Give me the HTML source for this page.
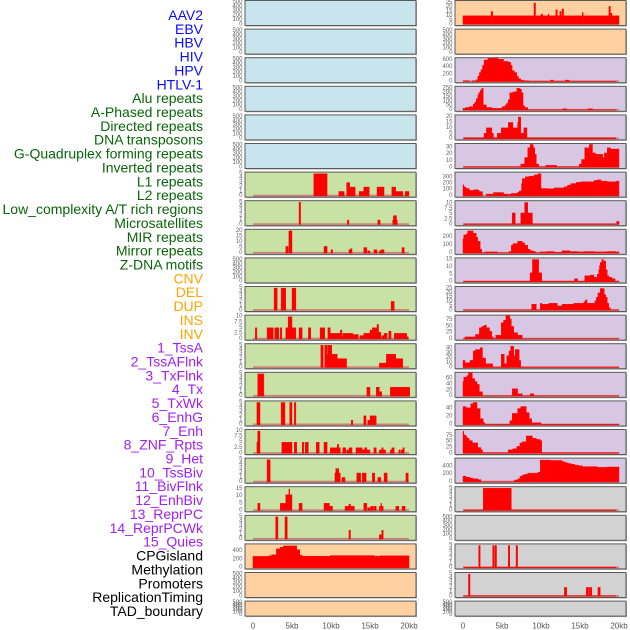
<!DOCTYPE html>
<html><head><meta charset="utf-8">
<style>
html,body{margin:0;padding:0;background:#fff;}
svg{display:block;font-family:"Liberation Sans",sans-serif;}
</style></head>
<body>
<svg id="chart" width="630" height="630" viewBox="0 0 630 630" xmlns="http://www.w3.org/2000/svg"></svg>
<script>
const rowLabels = ["AAV2","EBV","HBV","HIV","HPV","HTLV-1","Alu repeats","A-Phased repeats","Directed repeats","DNA transposons","G-Quadruplex forming repeats","Inverted repeats","L1 repeats","L2 repeats","Low_complexity A/T rich regions","Microsatellites","MIR repeats","Mirror repeats","Z-DNA motifs","CNV","DEL","DUP","INS","INV","1_TssA","2_TssAFlnk","3_TxFlnk","4_Tx","5_TxWk","6_EnhG","7_Enh","8_ZNF_Rpts","9_Het","10_TssBiv","11_BivFlnk","12_EnhBiv","13_ReprPC","14_ReprPCWk","15_Quies","CPGisland","Methylation","Promoters","ReplicationTiming","TAD_boundary"];
const labelGroups = [6,13,5,15,5];
const xTickLabels = ["0","5kb","10kb","15kb","20kb"];
const xTickValues = [0,5,10,15,20];
const E = [0,100,200,300,400,500];
const leftTicks = [E,E,E,E,E,E,[0,1,2,3,4,5],[0,1,2,3,4,5],[0,5,10,15,20],E,[0,1,2,3,4,5],[0,2.5,5,7.5,10],[0,1,2,3,4,5],[0,1,2,3,4,5],[0,1,2,3,4,5],[0,2.5,5,7.5,10],[0,1,2,3,4,5],[0,5,10,15],[0,1,2,3,4,5],[0,200,400],E,E];
const leftMax = [510,510,510,510,510,510,5,5,20,510,5,10,5,5,5,10,5,15.5,5,530,510,510];
const leftSeries = [null,null,null,null,null,null,
[[7.8,5],[9.5,0],[11,1],[11.7,0],[12,3],[12.4,2],[13.1,0],[13.6,1],[14.2,2],[14.9,0],[15.9,2],[16.8,0],[17.8,2],[18.3,1],[19.2,0],[19.5,1],[20,0]],
[[5.9,5],[6.1,0],[12.1,1],[12.3,0],[16,1],[16.3,0],[17.9,1],[18.0,2],[18.4,1],[18.5,0]],
[[4.2,6],[4.5,0],[4.6,20],[5.0,0],[9.1,6],[9.5,0],[10,3],[10.2,0],[12.3,3],[12.5,4],[12.7,0],[14.2,5],[14.6,0],[14.7,2],[15.0,0],[15.5,3],[15.9,0],[16.2,2],[16.4,3],[16.8,0],[19.1,5],[19.4,0]],
null,
[[2.7,5],[3.1,0],[3.6,5],[4.2,0],[5.0,5],[5.5,0],[17.7,2],[18.1,0]],
[[0.3,5],[0.5,0],[1.8,5],[2.6,0],[2.8,5],[3.3,0],[3.5,5],[3.7,0],[4.2,5],[4.5,10],[5.0,5],[5.5,0],[5.9,5],[6.3,0],[7.1,5],[7.4,0],[8.6,5],[9.2,0],[9.6,5],[9.9,2.5],[11.2,4],[11.4,1],[11.5,2.5],[12.8,2],[13.5,0],[13.7,1.5],[14.2,2.5],[15.0,4],[15.3,5],[15.9,6.5],[16.1,3],[16.4,0],[16.5,1.5],[16.8,2.5],[17.2,0],[17.4,3.5],[17.7,0],[18.1,2.5],[19.7,1],[19.9,0]],
[[8.7,5],[9.0,0],[9.2,5],[9.5,3],[9.6,5],[10.1,3],[10.8,2],[12.0,0],[16.2,1],[17.1,3],[18.3,2],[19.2,0]],
[[0.6,5],[1.4,0],[14.6,2],[15.0,0],[15.8,2],[16.2,1],[16.5,0],[17.6,2],[20.1,0]],
[[0.5,5],[0.9,0],[3.6,5],[4.1,0],[4.7,5],[5.0,0],[5.3,5],[5.5,0],[12.6,1],[12.8,0],[14.2,2],[14.5,0],[14.7,1],[15.0,2],[15.8,0]],
[[0.5,5],[0.6,10],[0.9,0],[3.7,5],[5.0,0],[5.3,5],[5.6,0],[6.3,5],[6.5,0],[6.7,5],[7.1,0],[8.1,5],[8.5,0],[9.1,5],[9.5,0],[9.9,2.5],[10.8,4],[11.0,2.5],[11.2,0],[11.5,2.5],[11.9,0],[12.0,1.5],[12.3,2.5],[12.7,0],[13.2,2.5],[14.0,1.5],[14.3,2.5],[14.6,1.5],[15.0,0],[15.5,2.5],[15.8,0],[16.2,1.5],[16.5,2.5],[16.7,1.5],[17.0,0],[17.6,1.5],[17.8,2.5],[18.1,0],[18.7,1.5],[18.9,0],[19.0,1.5],[19.2,2.5],[19.4,0]],
[[1.8,5],[2.2,0],[10.5,2],[10.6,3],[11.0,2],[11.2,0],[11.4,1],[11.8,0],[13.3,2],[13.8,0],[14.0,2],[14.5,0],[15.3,2],[15.6,0],[16.0,1],[16.4,0],[16.8,2],[17.2,0],[19.6,2],[19.9,0]],
[[0.6,5],[0.9,0],[3.5,5],[4.2,11],[4.6,15],[4.7,11],[5.0,0],[5.9,5],[6.3,0],[9.1,5],[9.8,3],[10.2,0],[11.8,3],[12.3,4.5],[12.5,3],[13.0,0],[14.2,5],[14.6,0],[14.7,2],[15.1,3],[15.4,0],[15.5,3],[15.8,0],[16.2,3],[16.4,5],[16.5,3],[16.7,0],[18.3,3],[18.7,0],[19.1,3],[19.5,0]],
[[2.9,5],[3.2,0],[4.1,5],[4.4,0],[12.3,2],[12.5,0],[16.2,1],[16.5,2],[16.7,0]],
[[0,270],[2.1,290],[2.4,310],[3.0,450],[3.5,490],[3.9,520],[5.6,430],[6.0,300],[6.3,275],[9.9,290],[15.6,275],[16.3,285],[20,0]],
null,null];
const rightTicks = [[0,5,10,15,20,25],E,[0,200,400,600],[0,50,100,150,200,250],[0,5,10,15,20],[0,10,20,30],[0,100,200,300],[0,2.5,5,7.5,10],[0,100,200],[0,5,10,15],[0,5,10,15,20,25],[0,25,50,75],[0,10,20,30,40],[0,20,40,60],[0,20,40],[0,25,50,75],[0,200,400],[0,1,2,3,4,5],E,[0,1,2,3,4,5],[0,1,2,3,4,5],E];
const rightMax = [26,510,620,255,20.5,34,360,10.6,280,15,25.5,89,47,76,55,96,580,5,510,5,5,510];
const rightSeries = [
[[0,10],[3.6,15],[3.8,10],[9.1,25],[9.3,10],[10,12],[10.2,10],[10.9,12],[11.0,10],[11.9,17],[12.1,10],[12.4,15],[12.6,10],[12.7,18],[12.9,10],[15.3,14],[15.4,10],[18.7,21],[18.9,13],[19.1,10],[20,0]],
null,
[[0,20],[0.8,0],[1.2,20],[1.7,50],[1.9,150],[2.1,250],[2.3,330],[2.5,450],[2.7,600],[3.2,650],[4.5,620],[5.2,560],[5.8,540],[6.1,450],[6.3,300],[6.6,250],[6.9,150],[7.1,80],[7.4,40],[7.8,20],[8.4,8],[11.2,40],[11.6,8],[13.1,40],[13.6,8],[19.6,0]],
[[0,20],[0.3,30],[0.8,40],[1.3,70],[1.5,90],[1.7,130],[1.9,170],[2.0,200],[2.2,230],[2.4,250],[2.6,60],[3.0,30],[3.7,20],[5.0,40],[5.4,60],[5.6,80],[5.8,120],[6.0,200],[6.4,210],[6.9,250],[7.3,240],[7.5,200],[7.7,50],[7.9,30],[8.3,5],[12.8,15],[13.3,5],[16.0,15],[16.6,5],[19.6,0]],
[[0.1,1],[2.7,5],[3.0,10],[3.7,5],[3.9,1],[4.4,5],[4.9,10],[5.8,15],[6.4,10],[7.0,15],[7.1,20],[7.4,5],[7.8,10],[8.2,1],[19.6,0]],
[[0.1,1],[7.4,5],[7.9,15],[8.3,30],[8.6,35],[9.0,30],[9.2,20],[9.4,5],[9.7,1],[10.6,3],[12.0,1],[14.9,5],[15.2,12],[15.6,30],[15.9,28],[16.0,30],[16.2,35],[16.6,22],[17.0,20],[17.9,15],[18.1,22],[18.5,30],[18.9,28],[20,0]],
[[0,180],[0.1,150],[0.3,130],[0.5,120],[0.8,90],[1.4,100],[1.9,90],[2.1,70],[2.5,0],[3.0,30],[3.9,55],[5.2,30],[5.8,0],[5.9,30],[6.2,40],[7.0,60],[7.2,80],[7.5,200],[7.6,280],[8.0,310],[8.5,320],[9.1,340],[9.6,360],[10.0,120],[10.9,115],[11.7,130],[13.0,150],[13.4,175],[13.8,200],[14.5,220],[15.1,230],[16.8,250],[17.2,260],[17.7,240],[18.5,230],[19.6,240],[20.0,0]],
[[0.1,0.3],[6.3,5.5],[6.7,0.3],[7.4,5.5],[7.9,10.5],[8.3,5.5],[8.9,0.3],[19.7,1.5],[20,0]],
[[0,180],[0.1,230],[0.5,250],[0.6,280],[1.3,250],[1.7,200],[1.9,150],[2.2,50],[2.4,3],[2.8,15],[4.4,3],[5.9,20],[6.2,100],[6.4,120],[7.0,150],[7.6,130],[7.9,100],[8.3,50],[8.6,30],[9.0,20],[9.3,5],[9.9,15],[10.7,20],[11.7,10],[12.7,30],[13.7,20],[14.7,15],[15.6,20],[16.9,15],[18.4,20],[19.6,15],[20,0]],
[[0.1,0.3],[8.6,6],[8.9,15],[9.7,6],[10.1,0.3],[14.3,2],[14.7,0.3],[15.6,4],[16.3,4.5],[16.8,3],[17.2,5],[17.4,8],[17.5,11],[17.6,13],[17.8,15],[18.0,14],[18.3,8],[18.5,4],[18.7,3],[19.1,2],[19.5,0.3],[20,0]],
[[0.1,0.5],[8.8,7],[9.4,0.5],[9.9,8],[10.1,7],[11.0,8],[12.1,5],[12.7,7],[14.2,8],[15.5,10],[15.7,12],[15.9,8],[16.9,11],[17.1,15],[17.3,20],[17.6,25],[18.1,18],[18.3,15],[18.5,8],[18.7,3],[18.9,0.5],[20,0]],
[[0.1,1],[0.25,8],[1.6,18],[2.1,45],[2.4,50],[2.7,55],[3.0,45],[3.4,30],[3.7,8],[3.9,1],[4.2,15],[4.9,65],[5.2,75],[5.5,105],[5.8,95],[6.0,80],[6.2,50],[6.5,25],[7.0,15],[7.6,1],[20,0]],
[[0,15],[0.25,10],[0.9,15],[1.3,35],[1.6,38],[2.2,42],[2.5,20],[2.9,8],[3.8,1],[4.9,28],[5.3,8],[5.6,25],[5.9,35],[6.1,45],[6.5,25],[6.7,38],[7.2,15],[7.4,1],[20,0]],
[[0,50],[0.1,65],[0.5,70],[0.7,80],[1.2,60],[1.5,50],[1.8,40],[2.1,15],[2.5,1],[6.3,25],[7.0,8],[7.6,1],[8.6,8],[9.1,1],[20,0]],
[[0,45],[0.4,42],[1.0,52],[1.3,55],[1.8,40],[2.2,15],[2.6,5],[2.8,1],[6.0,10],[6.3,28],[7.0,40],[7.4,45],[8.1,30],[8.5,15],[8.8,5],[10.0,1],[20,0]],
[[0,95],[0.1,80],[0.3,75],[0.5,65],[0.8,55],[1.2,45],[1.9,25],[2.3,15],[2.5,3],[5.8,15],[6.4,20],[6.9,30],[7.3,45],[7.6,50],[8.1,75],[8.9,65],[9.4,60],[9.9,55],[10.1,3],[20,0]],
[[0,150],[0.4,120],[0.9,100],[1.3,80],[1.9,60],[2.3,5],[6.6,50],[7.0,80],[7.3,150],[7.6,180],[7.9,200],[8.3,230],[9.6,250],[9.9,570],[11.2,560],[12.7,530],[13.1,500],[13.5,480],[13.9,460],[14.3,440],[14.8,420],[15.3,400],[17.2,380],[18.5,390],[20,0]],
[[0.1,0.15],[2.6,5],[6.2,0.15],[19.6,0]],
null,
[[0.1,0.15],[2.0,5],[2.2,0.15],[3.8,5],[4.0,0.15],[4.1,5],[4.3,0.15],[5.8,5],[6.0,0.15],[6.8,5],[7.0,0.15],[19.6,0]],
[[0.1,0.15],[0.7,5],[0.9,0.15],[13.0,2],[13.3,0.15],[15.8,2],[16.1,0.15],[16.2,2],[16.5,0.15],[17.3,2],[17.6,0.15],[19.6,0]],
null];
const leftBg = "BBBBBBGGGGGGGGGGGGGOOO";
const rightBg = "OOPPPPPPPPPPPPPPPYYYYY";
const bgColors = {B:"#c8e4ec",G:"#c8e1a5",O:"#ffd1a0",P:"#d7c7e2",Y:"#d2d2d2"};
const labelColors = ["#0a0aff","#0a640a","#ffa500","#a020f0","#000000"];

const svg = document.getElementById('chart');
const NS = "http://www.w3.org/2000/svg";
function mk(tag, attrs, parent){ const e=document.createElementNS(NS,tag); for(const k in attrs) e.setAttribute(k,attrs[k]); (parent||svg).appendChild(e); return e; }

let gi=0, gc=0;
rowLabels.forEach((t,i)=>{
  while(gc>=labelGroups[gi]){gi++;gc=0;}
  gc++;
  const tx = mk('text',{x:203,y:15+i*13.86,'text-anchor':'end','dominant-baseline':'central','font-size':14,fill:labelColors[gi]});
  tx.textContent=t;
  
  
});

function rowTop(i){ return 0.5+28.6*i; }
function rowH(i){ return i===21?15:25; }

function drawPanel(col, i, bg, ticks, axisMax, series){
  const px = col===0?245:455, pw=171;
  const x0 = col===0?253:463;
  const xs = kb => x0 + kb*7.8;
  const top=rowTop(i), h=rowH(i);
  const yb = top+h-1.2, span = h-2.8;
  const ys = v => yb - Math.min(v,axisMax*1.05)/axisMax*span;
  const g = mk('g',{});
  
  
  mk('rect',{x:px+1,y:top+1,width:pw,height:h,fill:'#aaa'},g);
  mk('rect',{x:px,y:top,width:pw,height:h,fill:bgColors[bg],stroke:'#5a5a5a','stroke-width':1},g);
  ticks.forEach(t=>{
    const tl = mk('text',{x:px-2.5,y:ys(t),'text-anchor':'end','dominant-baseline':'central','font-size':6,fill:'#666'},g);
    tl.textContent=String(t);
    
    
  });
  if(series){
    mk('rect',{x:xs(0),y:yb-1.2,width:xs(20)-xs(0),height:1.8,fill:'#d06a6a',opacity:0.8},g);
    for(let k=0;k<series.length-1;k++){
      const v=series[k][1]; if(v<=0) continue;
      const xa=xs(series[k][0]), xb=xs(series[k+1][0]);
      const r = mk('rect',{x:xa,y:ys(v),width:Math.max(0.8,xb-xa),height:yb-ys(v),fill:'#ff0000',stroke:'#ff0000','stroke-width':0.4},g);
      
      
    }
  }
}
for(let i=0;i<22;i++){
  drawPanel(0,i,leftBg[i],leftTicks[i],leftMax[i],leftSeries[i]);
  drawPanel(1,i,rightBg[i],rightTicks[i],rightMax[i],rightSeries[i]);
}
[253,463].forEach(x0=>{
  xTickValues.forEach((v,k)=>{
    const t = mk('text',{x:x0+v*7.8,y:626,'text-anchor':'middle','dominant-baseline':'central','font-size':8,fill:'#555'});
    t.textContent=xTickLabels[k];
    
    
  });
});
</script>
</body></html>
